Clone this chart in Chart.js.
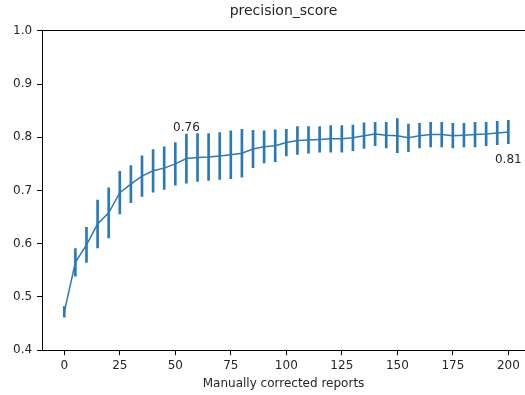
<!DOCTYPE html>
<html>
<head>
<meta charset="utf-8">
<script src="https://cdn.jsdelivr.net/npm/chart.js@4"></script>
<style>
  html, body { margin: 0; padding: 0; background: #fff; }
  #wrap { width: 525px; height: 395px; }
</style>
</head>
<body>
<div id="wrap"><canvas id="chart" width="525" height="395"></canvas></div>
<script>
// x: number of manually corrected reports
const reports = [0, 5, 10, 15, 20, 25, 30, 35, 40, 45, 50, 55, 60, 65, 70, 75, 80, 85, 90, 95,
  100, 105, 110, 115, 120, 125, 130, 135, 140, 145, 150, 155, 160, 165, 170, 175, 180, 185, 190, 195, 200];
// mean precision
const precision = [0.472, 0.565, 0.598, 0.637, 0.658, 0.696, 0.712, 0.727, 0.737, 0.742,
  0.750, 0.760, 0.762, 0.763, 0.765, 0.767, 0.770, 0.778, 0.782, 0.784,
  0.790, 0.794, 0.795, 0.796, 0.797, 0.797, 0.799, 0.803, 0.806, 0.804,
  0.803, 0.799, 0.803, 0.805, 0.805, 0.803, 0.804, 0.805, 0.806, 0.808, 0.810];
// half length of error bars
const errors = [0.010, 0.026, 0.033, 0.045, 0.047, 0.040, 0.035, 0.038, 0.040, 0.040,
  0.040, 0.046, 0.045, 0.044, 0.044, 0.045, 0.045, 0.035, 0.030, 0.030,
  0.025, 0.026, 0.025, 0.024, 0.025, 0.025, 0.024, 0.024, 0.022, 0.024,
  0.032, 0.026, 0.023, 0.023, 0.023, 0.023, 0.022, 0.023, 0.022, 0.022, 0.022];

const xTicks = [0, 25, 50, 75, 100, 125, 150, 175, 200];
const yTicks = [0.4, 0.5, 0.6, 0.7, 0.8, 0.9, 1.0];

// annotations: text, x, y (data units)
const noteText = ['0.76', '0.81'];
const noteX = [55, 200];
const noteY = [0.818, 0.758];

const blue = '#2a7ab8';
const ink = '#262626';
const font = "'DejaVu Sans', sans-serif";

const lineData = reports.map((x, i) => ({ x: x, y: precision[i] }));
const barData = reports.map((x, i) => ({ x: x, y: [precision[i] - errors[i], precision[i] + errors[i]] }));

// text annotations drawn via the scales
const notes = {
  id: 'notes',
  afterDatasetsDraw(chart) {
    const { ctx, scales } = chart;
    ctx.save();
    ctx.fillStyle = ink;
    ctx.font = '12px ' + font;
    ctx.textAlign = 'center';
    ctx.textBaseline = 'middle';
    noteText.forEach((t, i) => {
      ctx.fillText(t, scales.x.getPixelForValue(noteX[i]), scales.y.getPixelForValue(noteY[i]));
    });
    ctx.restore();
  }
};

Chart.defaults.font.family = font;
Chart.defaults.color = ink;

new Chart(document.getElementById('chart'), {
  data: {
    datasets: [
      {
        type: 'line',
        data: lineData,
        borderColor: blue,
        borderWidth: 1.5,
        pointRadius: 0,
        tension: 0,
        order: 1
      },
      {
        type: 'bar',
        data: barData,
        backgroundColor: blue,
        borderWidth: 0,
        barThickness: 2,
        grouped: false,
        order: 2
      }
    ]
  },
  plugins: [notes],
  options: {
    responsive: false,
    animation: false,
    layout: { padding: { left: 8, right: 0, top: 2, bottom: 4 } },
    plugins: {
      legend: { display: false },
      tooltip: { enabled: false },
      title: {
        display: true,
        text: 'precision_score',
        color: ink,
        fullSize: false,
        font: { size: 14, weight: 'normal' },
        padding: { top: 1, bottom: 3 }
      }
    },
    scales: {
      x: {
        type: 'linear',
        min: -10,
        max: 207.5,
        offset: false,
        afterBuildTicks: s => { s.ticks = xTicks.map(v => ({ value: v })); },
        grid: { offset: false, drawOnChartArea: false, drawTicks: true, tickLength: 5, color: '#000' },
        border: { display: true, color: '#000', width: 1 },
        ticks: { font: { size: 12 }, color: ink, padding: 3, maxRotation: 0 },
        title: {
          display: true,
          text: 'Manually corrected reports',
          font: { size: 12 },
          color: ink,
          padding: { top: 1, bottom: 0 }
        }
      },
      xTop: {
        type: 'linear',
        position: 'top',
        min: -10,
        max: 207.5,
        grid: { display: false },
        ticks: { display: false },
        border: { display: true, color: '#000', width: 1 }
      },
      y: {
        min: 0.4,
        max: 1.0,
        afterBuildTicks: s => { s.ticks = yTicks.map(v => ({ value: v })); },
        grid: { drawOnChartArea: false, drawTicks: true, tickLength: 5, color: '#000' },
        border: { display: true, color: '#000', width: 1 },
        ticks: { font: { size: 12 }, color: ink, padding: 5, callback: v => v.toFixed(1) }
      }
    }
  }
});
</script>
</body>
</html>
